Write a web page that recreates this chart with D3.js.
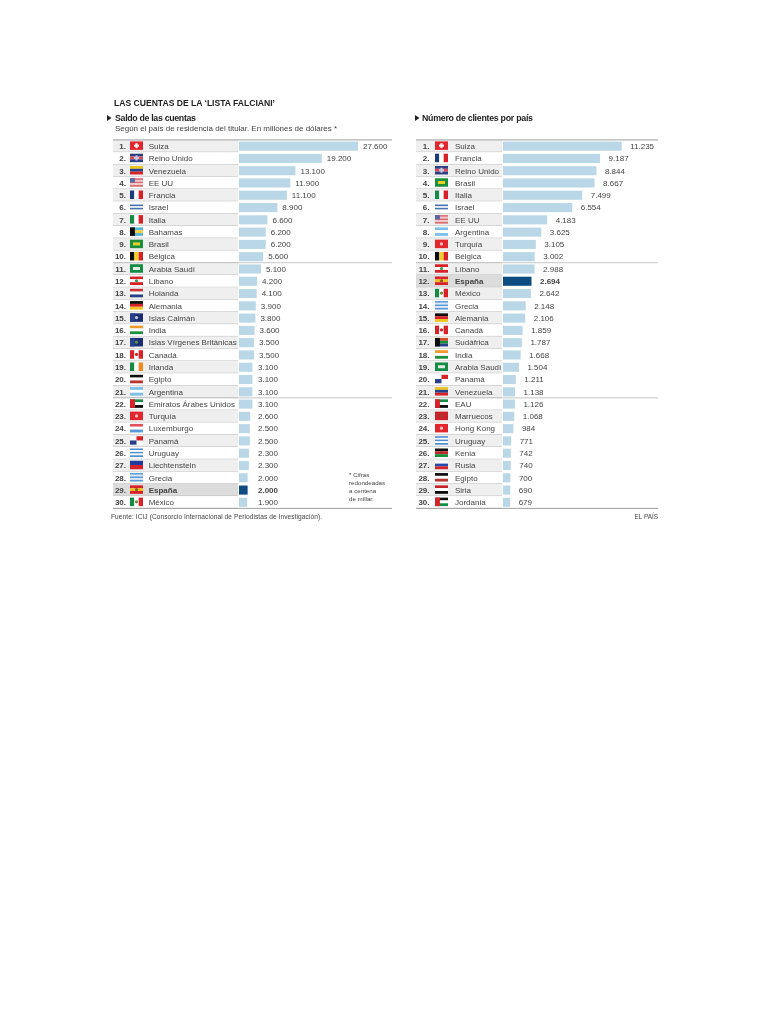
<!DOCTYPE html>
<html><head><meta charset="utf-8">
<script src="https://cdn.jsdelivr.net/npm/d3@7/dist/d3.min.js"></script>
<style>html,body{margin:0;background:#fff}svg{display:block}text{font-family:"Liberation Sans",Arial,sans-serif}</style>
</head><body><div id="chart"></div>
<script>
const titleText = "LAS CUENTAS DE LA ‘LISTA FALCIANI’";
const leftHeading = "Saldo de las cuentas";
const leftSub = "Según el país de residencia del titular. En millones de dólares *";
const rightHeading = "Número de clientes por país";
const sourceText = "Fuente: ICIJ (Consorcio Internacional de Periodistas de Investigación).";
const creditText = "EL PAÍS";
const noteLines = ["* Cifras","redondeadas","a centena","de millar."];

const leftNames = ["Suiza","Reino Unido","Venezuela","EE UU","Francia","Israel","Italia","Bahamas","Brasil","Bélgica","Arabia Saudí","Líbano","Holanda","Alemania","Islas Caimán","India","Islas Vírgenes Británicas","Canadá","Irlanda","Egipto","Argentina","Emiratos Árabes Unidos","Turquía","Luxemburgo","Panamá","Uruguay","Liechtenstein","Grecia","España","México"];
const leftValues = [27600,19200,13100,11900,11100,8900,6600,6200,6200,5600,5100,4200,4100,3900,3800,3600,3500,3500,3100,3100,3100,3100,2600,2500,2500,2300,2300,2000,2000,1900];
const rightNames = ["Suiza","Francia","Reino Unido","Brasil","Italia","Israel","EE UU","Argentina","Turquía","Bélgica","Líbano","España","México","Grecia","Alemania","Canadá","Sudáfrica","India","Arabia Saudí","Panamá","Venezuela","EAU","Marruecos","Hong Kong","Uruguay","Kenia","Rusia","Egipto","Siria","Jordania"];
const rightValues = [11235,9187,8844,8667,7499,6554,4183,3625,3105,3002,2988,2694,2642,2148,2106,1859,1787,1668,1504,1211,1138,1126,1068,984,771,742,740,700,690,679];

// flag: stripe direction, stripe colours, centre-mark colour, hoist colour, centre-mark kind
const flags = {
 "Suiza":["h",["#e1262d"],"#fff",null,"cross"],
 "Reino Unido":["h",["#2b3f83","#d8475a","#2b3f83"],"#c9c9dd",null,"cross"],
 "Venezuela":["h",["#e8c420","#27408b","#d8232a"]],
 "EE UU":["h",["#d96a6f","#efc9c9","#d96a6f","#efc9c9","#d96a6f"],null,"#5a67a8"],
 "Francia":["v",["#1c3a78","#fff","#d8232a"]],
 "Israel":["h",["#fff","#4a6fb0","#e4ecf6","#4a6fb0","#fff"]],
 "Italia":["v",["#168a45","#fff","#d8232a"]],
 "Bahamas":["h",["#58b6d6","#f0d040","#58b6d6"],null,"#111"],
 "Brasil":["h",["#1d8f3c"],"#e8d028",null,"bar"],
 "Bélgica":["v",["#111","#f0d020","#d8232a"]],
 "Arabia Saudí":["h",["#138a46"],"#dff0e4",null,"bar"],
 "Líbano":["h",["#d8232a","#fff","#d8232a"],"#3a9a50",null,"dot"],
 "Holanda":["h",["#c8323a","#fff","#27408b"]],
 "Alemania":["h",["#111","#d8232a","#efc420"]],
 "Islas Caimán":["h",["#1c2f72"],"#c9c9dd","#27408b","dot"],
 "India":["h",["#f09a30","#fff","#1d8f3c"]],
 "Islas Vírgenes Británicas":["h",["#1c2f72"],"#5a8f50","#27408b","dot"],
 "Canadá":["v",["#d8232a","#fff","#d8232a"],"#d8232a",null,"dot"],
 "Irlanda":["v",["#168a45","#fff","#f08a20"]],
 "Egipto":["h",["#111","#fff","#b8362e"]],
 "Argentina":["h",["#7cc0e8","#fff","#7cc0e8"]],
 "Emiratos Árabes Unidos":["h",["#138a46","#fff","#111"],null,"#d8232a"],
 "EAU":["h",["#138a46","#fff","#111"],null,"#d8232a"],
 "Turquía":["h",["#e1262d"],"#f5c0c0",null,"dot"],
 "Luxemburgo":["h",["#e0505a","#fff","#5a9ad8"]],
 "Panamá":["h",["#fff","#fff"],"#d8232a",null,"quarters"],
 "Uruguay":["h",["#4f8fd0","#fff","#4f8fd0","#fff","#4f8fd0"]],
 "Liechtenstein":["h",["#1c3a9a","#d8232a"]],
 "Grecia":["h",["#5a9ad8","#dbe8f5","#5a9ad8","#dbe8f5","#5a9ad8"]],
 "España":["h",["#d8232a","#f0c020","#d8232a"],"#8a5a20",null,"dot"],
 "México":["v",["#168a45","#fff","#d8232a"],"#6a8a40",null,"dot"],
 "Sudáfrica":["h",["#d8482a","#1d8f3c","#27408b"],null,"#111"],
 "Marruecos":["h",["#c8242c"],"#a04030",null,"dot"],
 "Hong Kong":["h",["#e1262d"],"#f5c0c0",null,"dot"],
 "Kenia":["h",["#111","#c8242c","#1d8f3c"],"#a03030",null,"dot"],
 "Rusia":["h",["#fff","#2747a8","#d8232a"]],
 "Siria":["h",["#c8242c","#fff","#111"]],
 "Jordania":["h",["#111","#fff","#138a46"],null,"#d8232a"]
};

const thousands = d3.formatLocale({decimal:",",thousands:".",grouping:[3],currency:["","€"]}).format(",d");
const svg = d3.select("#chart").append("svg").attr("width",768).attr("height",1024);
const defs = svg.append("defs");
defs.append("filter").attr("id","soft").attr("x","-2%").attr("y","-2%").attr("width","104%").attr("height","104%")
  .append("feGaussianBlur").attr("stdDeviation",0.42);
const g = svg.append("g").attr("filter","url(#soft)");
const ink = "#444";

const y = d3.scaleBand().domain(d3.range(30)).range([139.9,508.4]);

function panel(names, values, o){
  const x = d3.scaleLinear().domain([0,d3.max(values)]).range([o.barX,o.barEnd]);
  const p = g.append("g");
  const rows = p.selectAll("g.row").data(names.map((n,i)=>({n,v:values[i],i}))).join("g").attr("class","row");
  rows.append("rect").attr("x",o.x0).attr("y",d=>y(d.i)).attr("width",o.barX-1-o.x0).attr("height",y.bandwidth())
    .attr("fill",d=>d.n==="España"?"#dcdcdc":(d.i%2===0?"#efefef":"#fff"));
  rows.append("line").attr("x1",o.x0).attr("x2",o.barX-1).attr("y1",d=>y(d.i)+y.bandwidth()).attr("y2",d=>y(d.i)+y.bandwidth())
    .attr("stroke","#b8b8b8").attr("stroke-width",0.9);
  rows.append("rect").attr("class","bar").attr("x",o.barX).attr("y",d=>y(d.i)+1.7).attr("height",y.bandwidth()-3.2)
    .attr("width",d=>x(d.v)-o.barX).attr("fill",d=>d.n==="España"?"#0f4c81":"#b9d7e6");
  rows.append("text").attr("x",o.rankX).attr("y",d=>y(d.i)+y.bandwidth()/2+2.9).attr("text-anchor","end")
    .attr("font-size",8).attr("font-weight","bold").attr("fill",ink).text(d=>(d.i+1)+".");
  rows.append("text").attr("x",o.nameX).attr("y",d=>y(d.i)+y.bandwidth()/2+2.9)
    .attr("font-size",8).attr("font-weight",d=>d.n==="España"?"bold":"normal").attr("fill",ink).text(d=>d.n);
  rows.append("text").attr("x",d=>Math.max(x(d.v)+o.gap,o.minLabel)).attr("y",d=>y(d.i)+y.bandwidth()/2+2.9)
    .attr("font-size",8).attr("font-weight",d=>d.n==="España"?"bold":"normal").attr("fill",ink).text(d=>thousands(d.v));
  rows.each(function(d){
    const f = flags[d.n], fg = d3.select(this).append("g").attr("transform",`translate(${o.flagX},${y(d.i)+1.5})`);
    const W=13,H=8.5, cols=f[1], kind=f[4];
    const s = d3.scaleBand().domain(d3.range(cols.length)).range([0,f[0]==="h"?H:W]);
    fg.selectAll("rect").data(cols).join("rect")
      .attr("x",(c,i)=>f[0]==="h"?0:s(i)).attr("y",(c,i)=>f[0]==="h"?s(i):0)
      .attr("width",f[0]==="h"?W:s.bandwidth()).attr("height",f[0]==="h"?s.bandwidth():H).attr("fill",c=>c);
    if(f[3]) fg.append("rect").attr("width",W*0.38).attr("height",d.n==="EE UU"?H*0.5:H).attr("fill",f[3]);
    if(kind==="cross"){
      fg.append("rect").attr("x",W/2-2.5).attr("y",H/2-1).attr("width",5).attr("height",2).attr("fill",f[2]);
      fg.append("rect").attr("x",W/2-1).attr("y",H/2-2.5).attr("width",2).attr("height",5).attr("fill",f[2]);
    } else if(kind==="bar"){
      fg.append("rect").attr("x",W/2-3.5).attr("y",H/2-1.5).attr("width",7).attr("height",3).attr("fill",f[2]);
    } else if(kind==="dot"){
      fg.append("circle").attr("cx",W/2).attr("cy",H/2).attr("r",1.6).attr("fill",f[2]);
    } else if(kind==="quarters"){
      fg.append("rect").attr("x",W/2).attr("width",W/2).attr("height",H/2).attr("fill",f[2]);
      fg.append("rect").attr("y",H/2).attr("width",W/2).attr("height",H/2).attr("fill","#27408b");
    }
  });
  const rule=(yy,c,w)=>p.append("line").attr("x1",o.x0).attr("x2",o.x1).attr("y1",yy).attr("y2",yy).attr("stroke",c).attr("stroke-width",w);
  rule(y(0),"#a0a0a0",1);
  rule(y(10),"#c0c0c0",0.9);
  rule(y(21),"#c0c0c0",0.9);
  rule(y(29)+y.bandwidth(),"#a0a0a0",1);
}

panel(leftNames,leftValues,{x0:113,x1:392,barX:239,barEnd:358,rankX:126,flagX:130,nameX:148.7,gap:5,minLabel:258});
panel(rightNames,rightValues,{x0:416,x1:658,barX:503,barEnd:621.7,rankX:429.5,flagX:435,nameX:455,gap:8.5,minLabel:0});

g.append("text").attr("x",114).attr("y",106).attr("font-size",8.6).attr("font-weight","bold").attr("fill","#222").attr("textLength",161).text(titleText);
const marker=(xx,yy)=>g.append("path").attr("d",d3.line()([[xx,yy-3],[xx+4.5,yy],[xx,yy+3]])+"Z").attr("fill","#222");
marker(107,118); marker(415,118);
g.append("text").attr("x",115).attr("y",121).attr("font-size",8.8).attr("font-weight","bold").attr("fill","#222").attr("textLength",81).text(leftHeading);
g.append("text").attr("x",422).attr("y",121).attr("font-size",8.8).attr("font-weight","bold").attr("fill","#222").attr("textLength",111).text(rightHeading);
g.append("text").attr("x",115).attr("y",131).attr("font-size",8).attr("fill",ink).attr("textLength",222).text(leftSub);
g.append("text").attr("x",111).attr("y",518.5).attr("font-size",6.6).attr("fill",ink).attr("textLength",211).text(sourceText);
g.append("text").attr("x",658).attr("y",518.5).attr("font-size",6.4).attr("text-anchor","end").attr("fill",ink).text(creditText);
g.selectAll("text.note").data(noteLines).join("text").attr("class","note").attr("x",349).attr("y",(d,i)=>476.5+i*8.2).attr("font-size",6.2).attr("fill",ink).text(d=>d);
</script></body></html>
